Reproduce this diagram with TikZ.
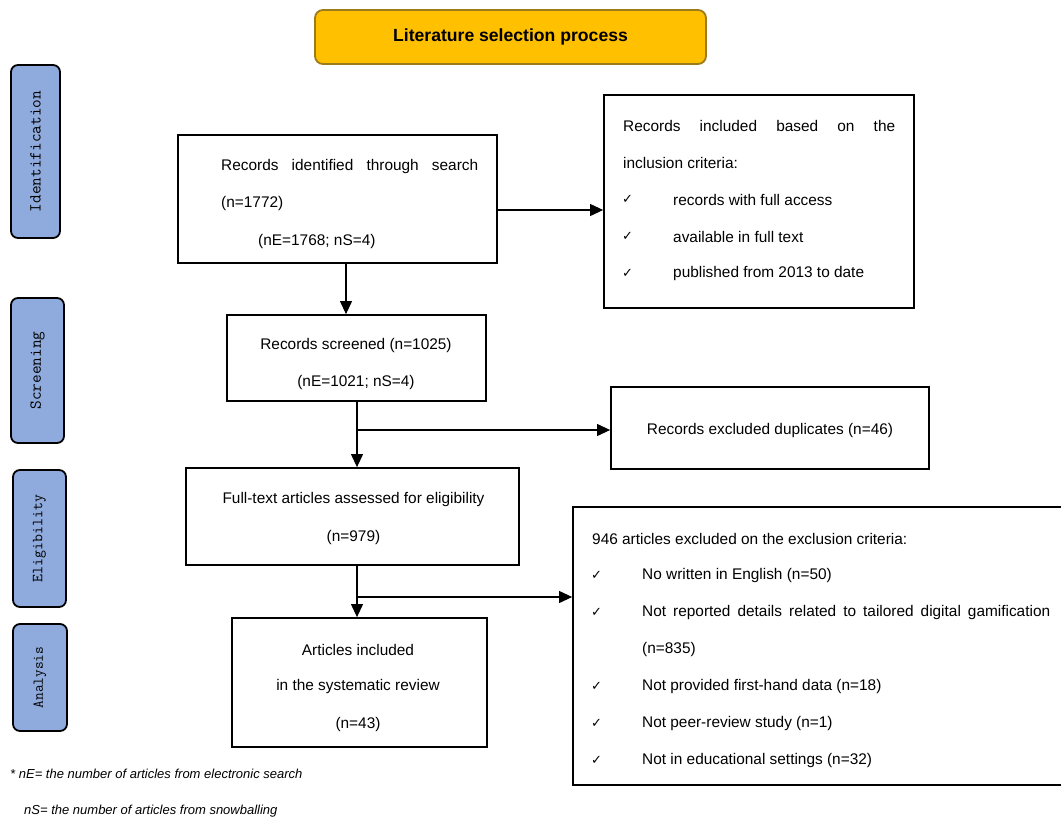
\documentclass[tikz,border=0pt]{standalone}
\usepackage{fontspec}
\setmainfont{Liberation Sans}
\newfontfamily\symfont{DejaVu Sans}
\usetikzlibrary{arrows.meta}
\definecolor{phaseblue}{HTML}{8FAADC}
\definecolor{titlegold}{HTML}{FFC000}
\definecolor{titleedge}{HTML}{9C7B1A}
\newcommand{\ck}{{\symfont\fontsize{13}{13}\selectfont ✓}}
\begin{document}
\begin{tikzpicture}[x=1pt,y=-1pt,
  box/.style={draw, line width=1.8pt, inner sep=0pt},
  phase/.style={draw, line width=1.8pt, rounded corners=7pt, fill=phaseblue, rotate=90, inner sep=0pt},
  txt/.style={inner sep=0pt, yshift=-1.5pt, font=\fontsize{15.4}{18}\selectfont},
  ltxt/.style={txt, anchor=west},
  arr/.style={-{Triangle[length=13pt,width=12pt]}, line width=1.1pt},
  foot/.style={inner sep=0pt, anchor=west, yshift=-1pt, font=\fontsize{13}{15}\selectfont\itshape}
]
\useasboundingbox (0,0) rectangle (1061,817);
\clip (0,0) rectangle (1061,817);

% title
\node[draw=titleedge, line width=1.8pt, fill=titlegold, rounded corners=8pt,
      minimum width=391pt, minimum height=54pt, inner sep=0pt,
      font=\fontsize{17.6}{20}\selectfont\bfseries] (title) at (510.5,37) {Literature selection process};

% phases
\node[phase, minimum width=173pt, minimum height=49pt, font=\fontsize{16.8}{18}\selectfont\ttfamily] (pid) at (35.5,151.5) {Identification};
\node[phase, minimum width=145pt, minimum height=53pt, font=\fontsize{16.8}{18}\selectfont\ttfamily] (pscr) at (37.5,370.5) {Screening};
\node[phase, minimum width=137pt, minimum height=53pt, font=\fontsize{15.4}{18}\selectfont\ttfamily] (pel) at (39.5,538.5) {Eligibility};
\node[phase, minimum width=107pt, minimum height=54pt, font=\fontsize{15}{18}\selectfont\ttfamily] (pan) at (40,677.5) {Analysis};

% boxes
\node[box, minimum width=319pt, minimum height=128pt] (ident) at (337.5,199) {};
\node[box, minimum width=310pt, minimum height=213pt] (incl) at (759,201.5) {};
\node[box, minimum width=259pt, minimum height=86pt] (screen) at (356.5,358) {};
\node[box, minimum width=318pt, minimum height=82pt] (dup) at (770,428) {};
\node[box, minimum width=333pt, minimum height=97pt] (elig) at (352.5,516.5) {};
\node[box, minimum width=497pt, minimum height=278pt] (excl) at (821.5,646) {};
\node[box, minimum width=255pt, minimum height=129pt] (final) at (359.5,682.5) {};

% ident text
\node[ltxt] (t1) at (221,165) {\makebox[257pt][s]{Records identified through search}};
\node[ltxt] (t2) at (221,202) {(n=1772)};
\node[ltxt] (t3) at (258,240) {(nE=1768; nS=4)};

% inclusion text
\node[ltxt] (i1) at (623,124) {\makebox[272pt][s]{Records included based on the}};
\node[ltxt] (i2) at (623,161) {inclusion criteria:};
\node[ltxt] (ic1) at (622,198) {\ck};
\node[ltxt] (i3) at (673,198) {records with full access};
\node[ltxt] (ic2) at (622,235) {\ck};
\node[ltxt] (i4) at (673,235) {available in full text};
\node[ltxt] (ic3) at (622,272) {\ck};
\node[ltxt] (i5) at (673,272) {published from 2013 to date};

% screened text
\node[txt] (s1) at (356,344) {Records screened (n=1025)};
\node[txt] (s2) at (356,381) {(nE=1021; nS=4)};

% duplicates
\node[txt] (d1) at (770,429) {Records excluded duplicates (n=46)};

% eligibility
\node[txt] (e1) at (353.5,498) {Full-text articles assessed for eligibility};
\node[txt] (e2) at (353.5,536) {(n=979)};

% exclusion
\node[ltxt] (x0) at (592,537) {946 articles excluded on the exclusion criteria:};
\node[ltxt] (xc1) at (591,574) {\ck};
\node[ltxt] (x1) at (642,574) {No written in English (n=50)};
\node[ltxt] (xc2) at (591,611) {\ck};
\node[ltxt] (x2) at (642,611) {\makebox[408pt][s]{Not reported details related to tailored digital gamification}};
\node[ltxt] (x2b) at (642,648) {(n=835)};
\node[ltxt] (xc3) at (591,685) {\ck};
\node[ltxt] (x3) at (642,685) {Not provided first-hand data (n=18)};
\node[ltxt] (xc4) at (591,722) {\ck};
\node[ltxt] (x4) at (642,722) {Not peer-review study (n=1)};
\node[ltxt] (xc5) at (591,759) {\ck};
\node[ltxt] (x5) at (642,759) {Not in educational settings (n=32)};

% final
\node[txt] (f1) at (358,648) {Articles included};
\node[txt] (f2) at (358,685) {in the systematic review};
\node[txt] (f3) at (358,723) {(n=43)};

% footnote
\node[foot] (n1) at (10,773) {* nE= the number of articles from electronic search};
\node[foot] (n2) at (24,810) {nS= the number of articles from snowballing};

% connectors
\coordinate (a1) at (0,210);
\coordinate (c1) at (346,0);
\coordinate (c2) at (357,0);
\coordinate (b1) at (357,430);
\coordinate (b2) at (357,597);
\draw[arr] (ident.east |- a1) -- (incl.west |- a1);
\draw[arr] (ident.south -| c1) -- (screen.north -| c1);
\draw[arr] (screen.south -| c2) -- (elig.north -| c2);
\draw[arr] (b1) -- (dup.west |- b1);
\draw[arr] (elig.south -| c2) -- (final.north -| c2);
\draw[arr] (b2) -- (excl.west |- b2);
\end{tikzpicture}
\end{document}
